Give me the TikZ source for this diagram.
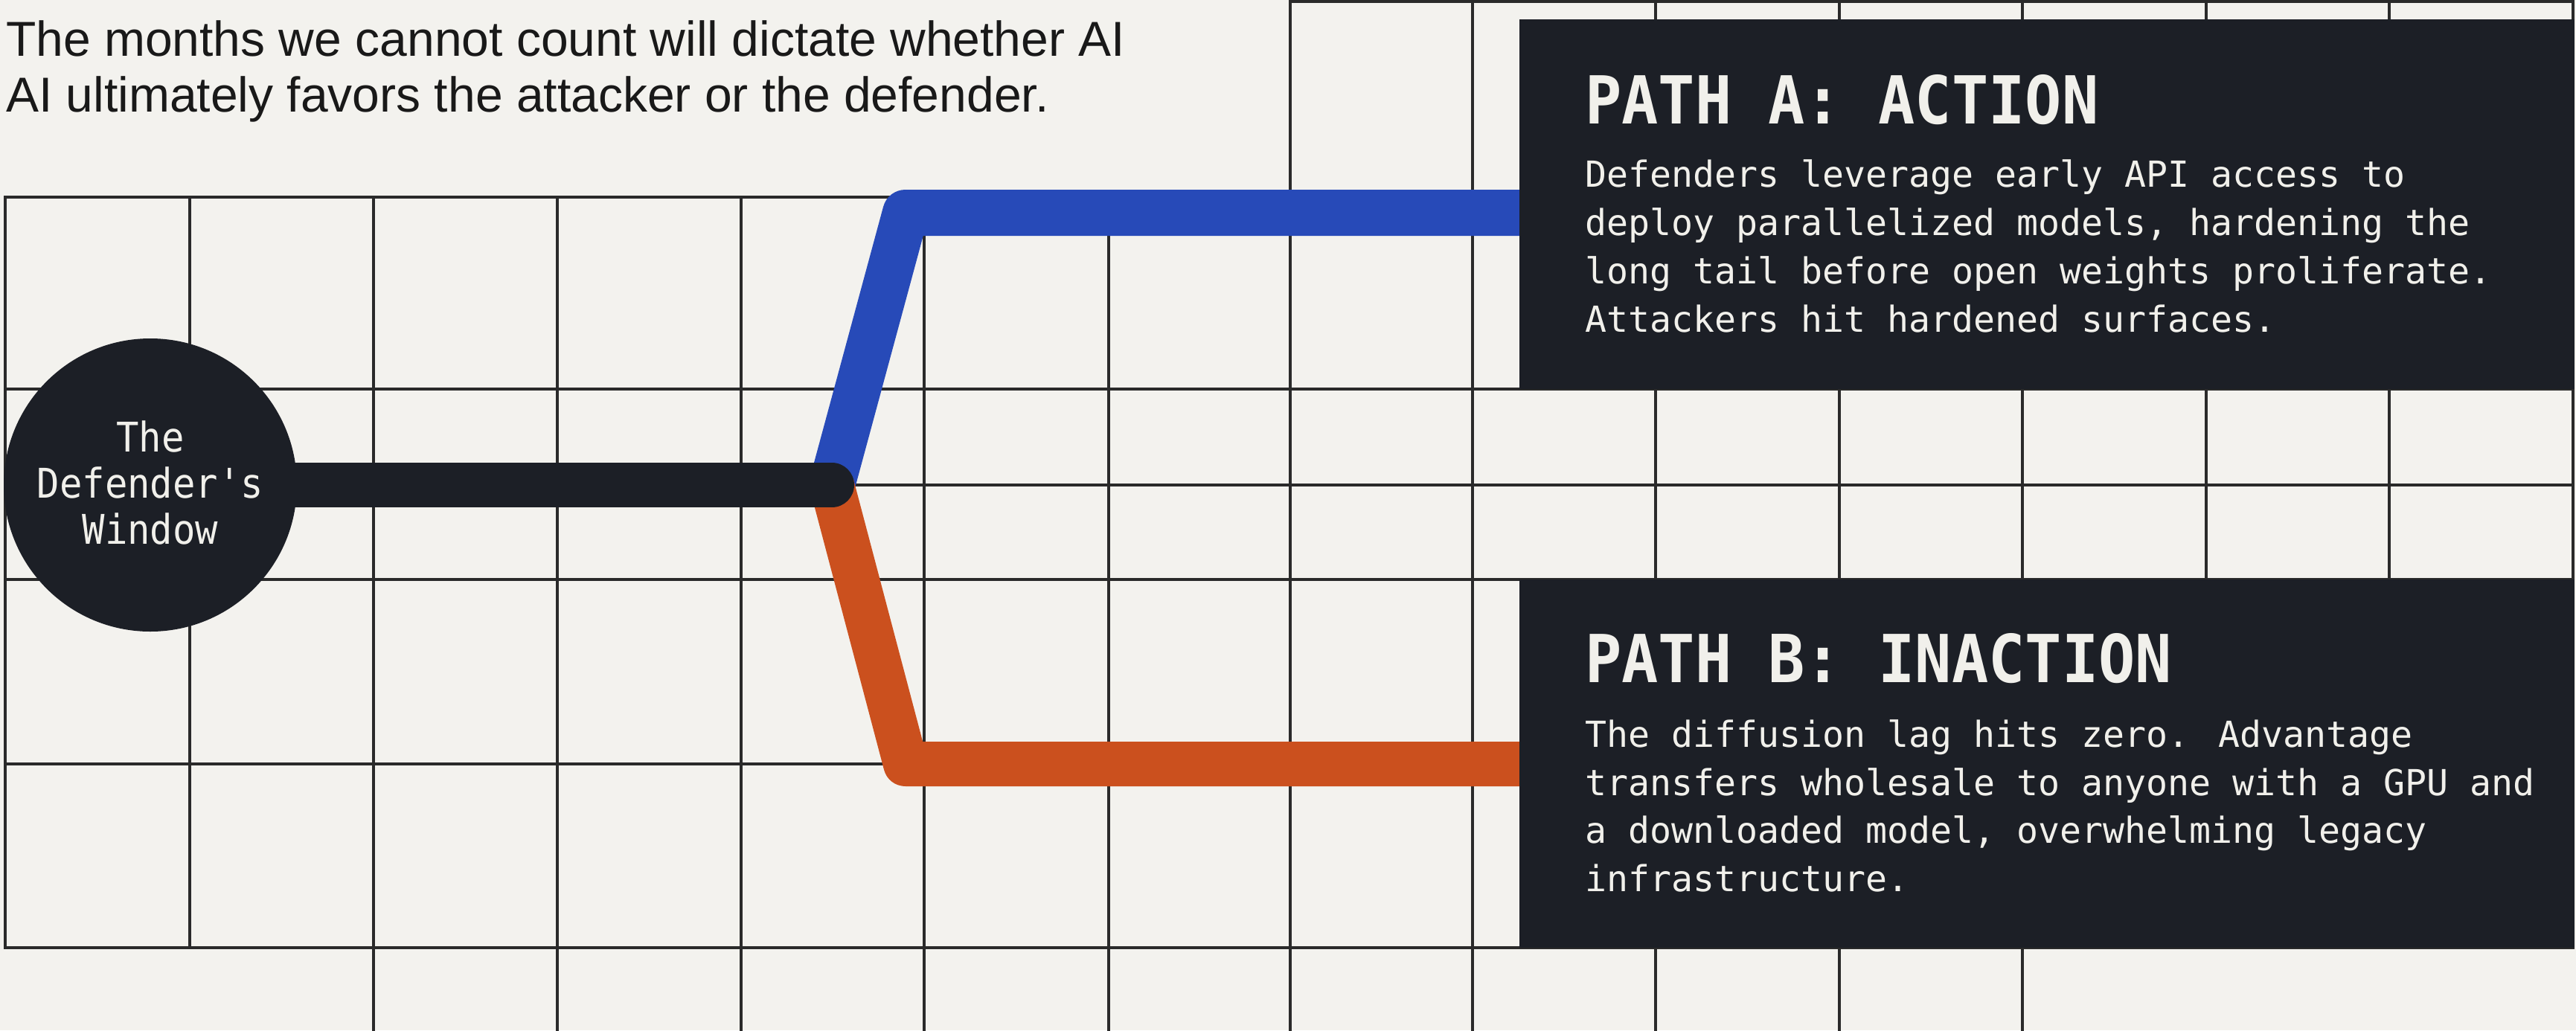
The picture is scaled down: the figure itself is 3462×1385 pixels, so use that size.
\documentclass[tikz,border=0pt]{standalone}
\usepackage{fontspec}
\setmainfont{Liberation Sans}
\newfontfamily\condmono[FakeStretch=0.92,Ligatures=TeXOff]{DejaVu Sans Mono}
\newfontfamily\bodymono[Ligatures=TeXOff]{DejaVu Sans Mono}

\definecolor{paper}{HTML}{F3F2EE}
\definecolor{ink}{HTML}{1C1F26}
\definecolor{rule}{HTML}{2A2A2A}
\definecolor{actionblue}{HTML}{274AB8}
\definecolor{inactionorange}{HTML}{CB501E}
\definecolor{chalk}{HTML}{F1F0EB}

\begin{document}
\begin{tikzpicture}[x=1pt,y=-1pt,
  gridline/.style={draw=rule,line width=4pt,line cap=rect},
  branch/.style={line width=62pt,line join=round},
  panel/.style={fill=ink,draw=none,inner sep=0pt,anchor=north west},
  headtxt/.style={text=chalk,inner sep=0pt,anchor=base west,
    font=\condmono\bfseries\fontsize{89}{89}\selectfont},
  bodytxt/.style={text=chalk,inner sep=0pt,anchor=base west,align=left,
    font=\bodymono\fontsize{48.2}{65}\selectfont},
  titletxt/.style={text=black!90,inner sep=0pt,anchor=base west,align=left,
    font=\fontsize{66}{75}\selectfont}]

% canvas
\useasboundingbox (0,0) rectangle (3462,1385);
\fill[paper] (0,0) rectangle (3462,1385);

% grid: main band
\foreach \x in {7,255,502,749,996,1242,1490,1734,1979,2225,2472,2718,2965,3211,3458}
  \draw[gridline] (\x,265) -- (\x,1274);
\foreach \y in {265,523,652,779,1027,1274}
  \draw[gridline] (7,\y) -- (3458,\y);
% grid: upper strip on the right
\draw[gridline] (1734,2) -- (3458,2);
\foreach \x in {1734,1979,2225,2472,2718,2965,3211,3458}
  \draw[gridline] (\x,2) -- (\x,265);
% grid: lower strip
\foreach \x in {502,749,996,1242,1490,1734,1979,2225,2472,2718}
  \draw[gridline] (\x,1274) -- (\x,1385);

% key points of the branching path
\coordinate (fork) at (1118,652);
\coordinate (aBend) at (1217,286);
\coordinate (aIn) at (2060,286);
\coordinate (bBend) at (1217,1027);
\coordinate (bIn) at (2060,1027);

% the two branches
\draw[branch,draw=actionblue] (fork) -- (aBend) -- (aIn);
\draw[branch,draw=inactionorange,line width=60pt] (fork) -- (bBend) -- (bIn);

% origin circle and its stem
\node[circle,fill=ink,minimum size=394pt,inner sep=0pt] (win) at (202,652) {};
\draw[ink,line width=60pt,line cap=round] (win.center) -- (fork);
% multi-line nodes sit on the baseline of their last line
\node[text=chalk,inner sep=0pt,anchor=base,align=center,
  font=\condmono\fontsize{55}{62}\selectfont] (winlabel) at (202,731)
  {The\\Defender's\\Window};

% outcome panels
\node[panel,minimum width=1418pt,minimum height=497pt] (pathA) at (2042,26) {};
\node[panel,minimum width=1418pt,minimum height=495pt] (pathB) at (2042,779) {};

\node[headtxt] (headA) at (2130,166) {PATH A: ACTION};
\node[bodytxt] (bodyA) at (2130,446)
  {Defenders leverage early API access to\\
   deploy parallelized models, hardening the\\
   long tail before open weights proliferate.\\
   Attackers hit hardened surfaces.};

\node[headtxt] (headB) at (2130,917) {PATH B: INACTION};
\node[bodytxt,font=\bodymono\fontsize{48.2}{64.5}\selectfont] (bodyB) at (2130,1198)
  {The diffusion lag hits zero. Advantage\\
   transfers wholesale to anyone with a GPU and\\
   a downloaded model, overwhelming legacy\\
   infrastructure.};

% caption
\node[titletxt] (title) at (8,150)
  {The months we cannot count will dictate whether AI\\
   AI ultimately favors the attacker or the defender.};
\end{tikzpicture}
\end{document}
